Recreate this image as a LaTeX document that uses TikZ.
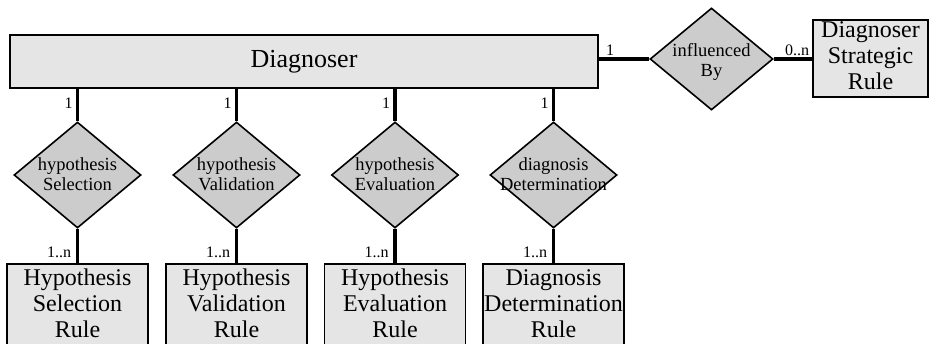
\documentclass[tikz,border=0pt]{standalone}
\usepackage{fontspec}
\setmainfont{Liberation Serif}
\usetikzlibrary{shapes.geometric}
\definecolor{entfill}{gray}{0.9}
\definecolor{relfill}{gray}{0.8}
\begin{document}
\begin{tikzpicture}[x=1pt,y=-1pt,
  entity/.style={draw=black,line width=1.8,fill=entfill,inner sep=0},
  relation/.style={diamond,draw=black,line width=1.6,fill=relfill,inner sep=0,
                   minimum width=127,minimum height=106},
  entext/.style={align=center,inner sep=0,font=\fontsize{24}{26}\selectfont},
  reltext/.style={align=center,inner sep=0,font=\fontsize{18.5}{20.5}\selectfont},
  card/.style={inner sep=0,font=\fontsize{16}{18}\selectfont},
  link/.style={line width=3.6}]
\useasboundingbox (0,0) rectangle (933,343);
\clip (0,0) rectangle (933,343);

% central entity
\node[entity,minimum width=588,minimum height=53,
      font=\fontsize{26}{28}\selectfont] (diag) at (304,61.5) {Diagnoser};

% relationships hanging below the central entity
\node[relation] (r1) at (77.5,175) {};
\node[relation] (r2) at (236.5,175) {};
\node[relation] (r3) at (395,175) {};
\node[relation] (r4) at (553.5,175) {};
\node[reltext] (r1t) at (77.5,174) {hypothesis\\Selection};
\node[reltext] (r2t) at (236.5,174) {hypothesis\\Validation};
\node[reltext] (r3t) at (395,174) {hypothesis\\Evaluation};
\node[reltext] (r4t) at (553.5,174) {diagnosis\\Determination};

% rule entities
\node[entity,minimum width=141,minimum height=110,anchor=north] (e1) at (77.5,263) {};
\node[entity,minimum width=141,minimum height=110,anchor=north] (e2) at (236.5,263) {};
\node[entity,minimum width=141,minimum height=110,anchor=north] (e3) at (395,263) {};
\node[entity,minimum width=141,minimum height=110,anchor=north] (e4) at (553.5,263) {};
\node[entext,anchor=north] (e1t) at (77.5,269) {Hypothesis\\Selection\\Rule};
\node[entext,anchor=north] (e2t) at (236.5,269) {Hypothesis\\Validation\\Rule};
\node[entext,anchor=north] (e3t) at (395,269) {Hypothesis\\Evaluation\\Rule};
\node[entext,anchor=north] (e4t) at (553.5,269) {Diagnosis\\Determination\\Rule};

% connectors
\draw[link] (diag.south -| r1.north) -- (r1.north);
\draw[link] (diag.south -| r2.north) -- (r2.north);
\draw[link] (diag.south -| r3.north) -- (r3.north);
\draw[link] (diag.south -| r4.north) -- (r4.north);
\draw[link] (r1.south) -- (e1.north);
\draw[link] (r2.south) -- (e2.north);
\draw[link] (r3.south) -- (e3.north);
\draw[link] (r4.south) -- (e4.north);

% cardinalities
\node[card] (c1) at (68.5,103) {1};
\node[card] (c2) at (227.5,103) {1};
\node[card] (c3) at (386,103) {1};
\node[card] (c4) at (544.5,103) {1};
\node[card] (n1) at (59,252) {1..n};
\node[card] (n2) at (218,252) {1..n};
\node[card] (n3) at (376.5,252) {1..n};
\node[card] (n4) at (535,252) {1..n};

% strategic rule branch
\node[relation,minimum width=123,minimum height=102] (infl) at (711.5,59) {};
\node[reltext] (inflt) at (711.5,62) {influenced\\By};
\node[entity,minimum width=115,minimum height=77] (dsr) at (870.5,58.5) {};
\node[entext,anchor=north] (dsrt) at (870.5,21) {Diagnoser\\Strategic\\Rule};
\draw[link] (diag.east |- infl.west) -- (infl.west);
\draw[link] (infl.east) -- (dsr.west |- infl.east);
\node[card] (ci) at (610,50) {1};
\node[card] (cn) at (797,50) {0..n};
\end{tikzpicture}
\end{document}
